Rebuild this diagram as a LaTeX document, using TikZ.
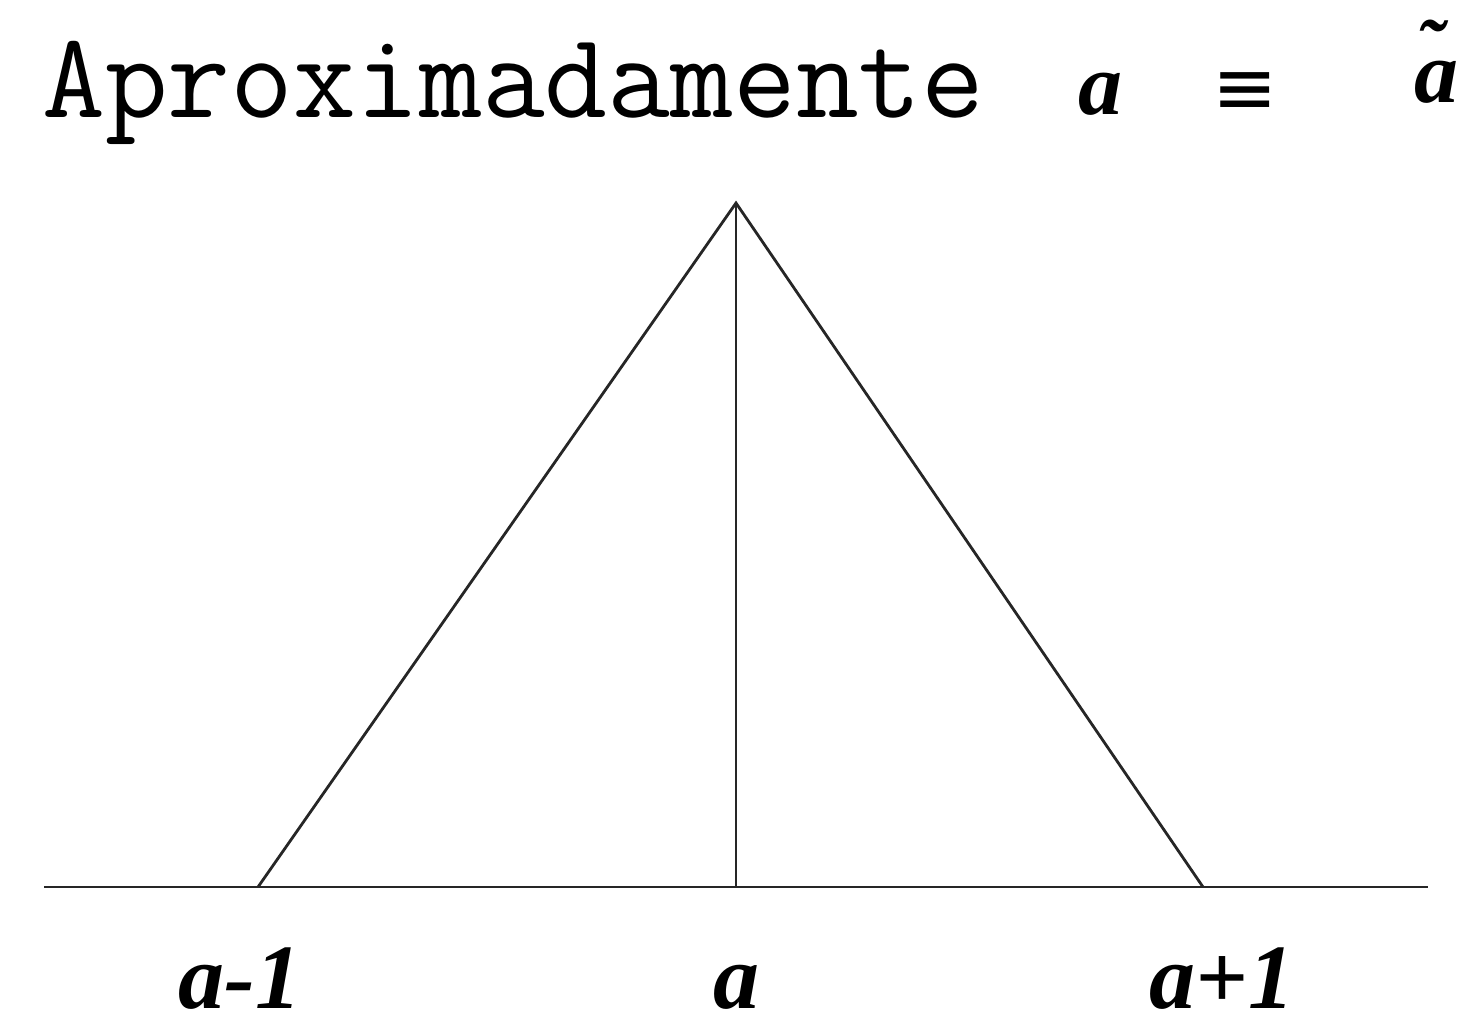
\documentclass[tikz,border=0pt]{standalone}
\usepackage{fontspec}
\setmainfont{Liberation Serif}
\newfontfamily\symfont{DejaVu Sans}
\begin{document}
\begin{tikzpicture}[x=1pt,y=-1pt,
  ln/.style={line width=2.8pt, draw=black!85},
  lbl/.style={font=\fontsize{92}{100}\selectfont\bfseries\itshape, inner sep=0pt, anchor=base}]
\useasboundingbox (0,0) rectangle (1472,1028);
% title
\node[anchor=base west, inner sep=0pt, font=\fontsize{122}{124}\selectfont\ttfamily] (title) at (42,117) {Aproximadamente};
\node[lbl, font=\fontsize{88}{100}\selectfont\bfseries\itshape] (ta) at (1100,114) {a};
\node[anchor=base, inner sep=0pt, font=\fontsize{78}{100}\selectfont\symfont] (eq) at (1245,114) {≡};
\node[lbl, font=\fontsize{88}{100}\selectfont\bfseries\itshape] (tat) at (1436,102)
  {\rlap{\hspace{2pt}\raisebox{28pt}{\fontsize{80}{80}\selectfont\char"02DC}}a};
% geometry
\coordinate (apex) at (736,203);
\coordinate (L) at (258,887);
\coordinate (R) at (1203,887);
\coordinate (M) at (736,887);
\coordinate (A0) at (44,887);
\coordinate (A1) at (1428,887);
\draw[ln] (A0) -- (A1);
\draw[ln] (L) -- (apex) -- (R);
\draw[ln] (apex) -- (M);
% labels
\node[lbl] (lm) at (240,1008) {a-1};
\node[lbl] (la) at (736,1008) {a};
\node[lbl] (lp) at (1222,1008) {a+1};
\end{tikzpicture}
\end{document}
